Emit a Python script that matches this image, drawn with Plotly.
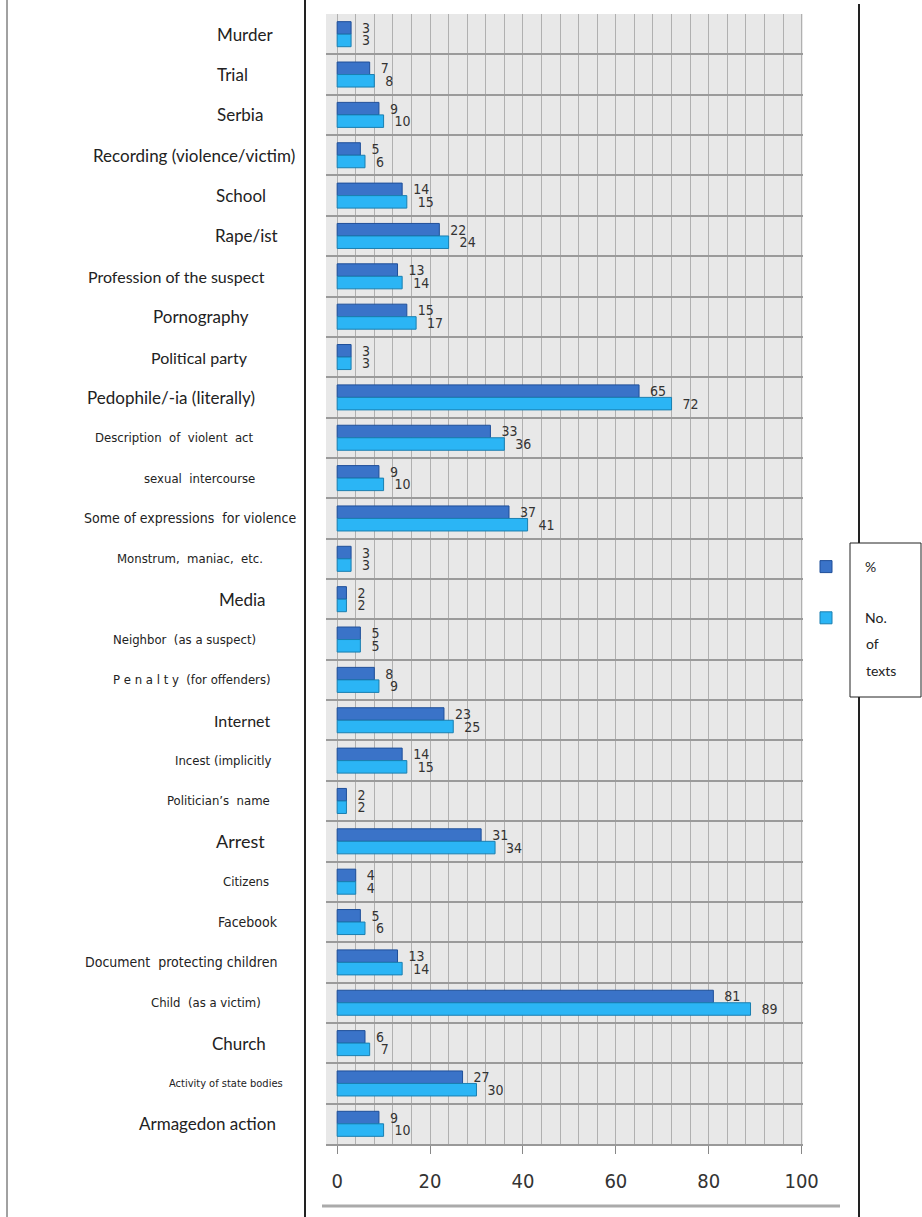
import plotly.graph_objects as go

categories = ["Murder", "Trial", "Serbia", "Recording (violence/victim)", "School", "Rape/ist",
              "Profession of the suspect", "Pornography", "Political party", "Pedophile/-ia (literally)",
              "Description  of  violent  act", "sexual  intercourse", "Some of expressions  for violence",
              "Monstrum,  maniac,  etc.", "Media", "Neighbor  (as a suspect)", "P e n a l t y  (for offenders)",
              "Internet", "Incest (implicitly", "Politician\u2019s  name", "Arrest", "Citizens", "Facebook",
              "Document  protecting children", "Child  (as a victim)", "Church", "Activity of state bodies",
              "Armagedon action"]
pct = [3, 7, 9, 5, 14, 22, 13, 15, 3, 65, 33, 9, 37, 3, 2, 5, 8, 23, 14, 2, 31, 4, 5, 13, 81, 6, 27, 9]
no_texts = [3, 8, 10, 6, 15, 24, 14, 17, 3, 72, 36, 10, 41, 3, 2, 5, 9, 25, 15, 2, 34, 4, 6, 14, 89, 7, 30, 10]
x_ticks = [0, 20, 40, 60, 80, 100]
series_names = ["%", "No. of texts"]

# label styling: (center pixel x, font size, condensed?)
label_style = [(245, 17, False), (232, 17, False), (240, 17, False), (194, 17, False), (241, 17, False),
               (246, 17, False), (176, 16, False), (201, 17, False), (199, 16, False), (171, 17, False),
               (174, 13, True), (199, 13, True), (190, 14, True), (190, 13, True), (242, 17, False),
               (184, 13, True), (192, 13, True), (242, 16, False), (223, 13, True), (218, 13, True),
               (240, 18, False), (246, 13, True), (248, 14, True), (181, 14, True), (206, 13, True),
               (239, 17, False), (226, 11, True), (207, 17, False)]

W, H = 922, 1217
PL, PR, PT, PB = 326, 803, 14, 1144


def fx(px):
    return (px - PL) / (PR - PL)


def fy(py):
    return (PB - py) / (PB - PT)


n = len(categories)
ypos = list(range(n))

DARK = "#3a73c8"
LIGHT = "#2bb5f5"
NARROW = "Liberation Sans Narrow, DejaVu Sans Condensed, Roboto Condensed, Arial Narrow, sans-serif"
REG = "Lato, Open Sans, sans-serif"
LEGFONT = dict(family=REG, size=14, color="#222222")
PAD = "\u00a0\u00a0"

fig = go.Figure()
fig.add_trace(go.Bar(y=ypos, x=pct, orientation="h", name=series_names[0], legendgroup="a",
                     marker=dict(color=DARK, line=dict(color="#1f4f99", width=1)),
                     text=pct, texttemplate=PAD + "%{x}", textposition="outside",
                     cliponaxis=False, constraintext="none",
                     textfont=dict(family=NARROW, size=14, color="#333333")))
fig.add_trace(go.Bar(y=ypos, x=no_texts, orientation="h", name="No.", legendgroup="b",
                     hovertemplate=series_names[1] + ": %{x}<extra></extra>",
                     marker=dict(color=LIGHT, line=dict(color="#1a7fb0", width=1)),
                     text=no_texts, texttemplate=PAD + "%{x}", textposition="outside",
                     cliponaxis=False, constraintext="none",
                     textfont=dict(family=NARROW, size=14, color="#333333")))

annotations = []
for i, (lab, (cx, fs, narrow)) in enumerate(zip(categories, label_style)):
    annotations.append(dict(x=fx(cx), xref="paper", y=i, yref="y", text=lab, showarrow=False,
                            xanchor="center", yanchor="middle",
                            font=dict(family=NARROW if narrow else REG, size=fs, color="#222222")))
# continuation lines of the second legend entry ("No. / of / texts")
for word, py in zip(series_names[1].split()[1:], [643, 670]):
    annotations.append(dict(x=fx(864), xref="paper", y=fy(py), yref="paper", text=word,
                            showarrow=False, xanchor="left", yanchor="middle", font=LEGFONT))

shapes = [
    dict(type="line", xref="paper", yref="paper", x0=fx(7), x1=fx(7), y0=fy(0), y1=fy(H),
         line=dict(color="#444444", width=1)),
    dict(type="line", xref="paper", yref="paper", x0=fx(305), x1=fx(305), y0=fy(0), y1=fy(H),
         line=dict(color="#222222", width=2)),
    dict(type="line", xref="paper", yref="paper", x0=fx(859), x1=fx(859), y0=fy(4), y1=fy(543),
         line=dict(color="#222222", width=2)),
    dict(type="line", xref="paper", yref="paper", x0=fx(859), x1=fx(859), y0=fy(697), y1=fy(H),
         line=dict(color="#222222", width=2)),
    dict(type="rect", xref="paper", yref="paper", x0=fx(850), x1=fx(921), y0=fy(543), y1=fy(697),
         line=dict(color="#222222", width=1), fillcolor="rgba(0,0,0,0)"),
    dict(type="line", xref="paper", yref="paper", x0=fx(322), x1=fx(840), y0=fy(1206), y1=fy(1206),
         line=dict(color="#aaaaaa", width=3)),
]

fig.update_layout(
    width=W, height=H,
    margin=dict(l=PL, r=W - PR, t=PT, b=H - PB),
    paper_bgcolor="white", plot_bgcolor="#e8e8e8",
    barmode="group", bargap=0.38, bargroupgap=0.0,
    showlegend=True,
    legend=dict(x=fx(787), y=fy(551), xanchor="left", yanchor="top", bgcolor="rgba(0,0,0,0)",
                font=LEGFONT, traceorder="grouped", itemwidth=68,
                tracegroupgap=30, valign="top"),
    annotations=annotations, shapes=shapes,
    xaxis=dict(range=[-2.4, 100.3], tickvals=x_ticks, ticktext=[str(t) for t in x_ticks],
               showgrid=True, gridcolor="#b0b0b0", gridwidth=1,
               minor=dict(dtick=4, tick0=0, showgrid=True, gridcolor="#b0b0b0", gridwidth=1),
               ticks="outside", ticklen=8, tickcolor="#888888",
               showline=True, linecolor="#999999", linewidth=2,
               zeroline=False, ticklabelstandoff=10,
               tickfont=dict(family=NARROW, size=20, color="#333333")),
    yaxis=dict(range=[n - 0.5, -0.5], tick0=0.5, dtick=1, showgrid=True, gridcolor="#9a9a9a",
               gridwidth=2, showticklabels=False, zeroline=False, ticks=""),
)

fig.write_html("out.html")
